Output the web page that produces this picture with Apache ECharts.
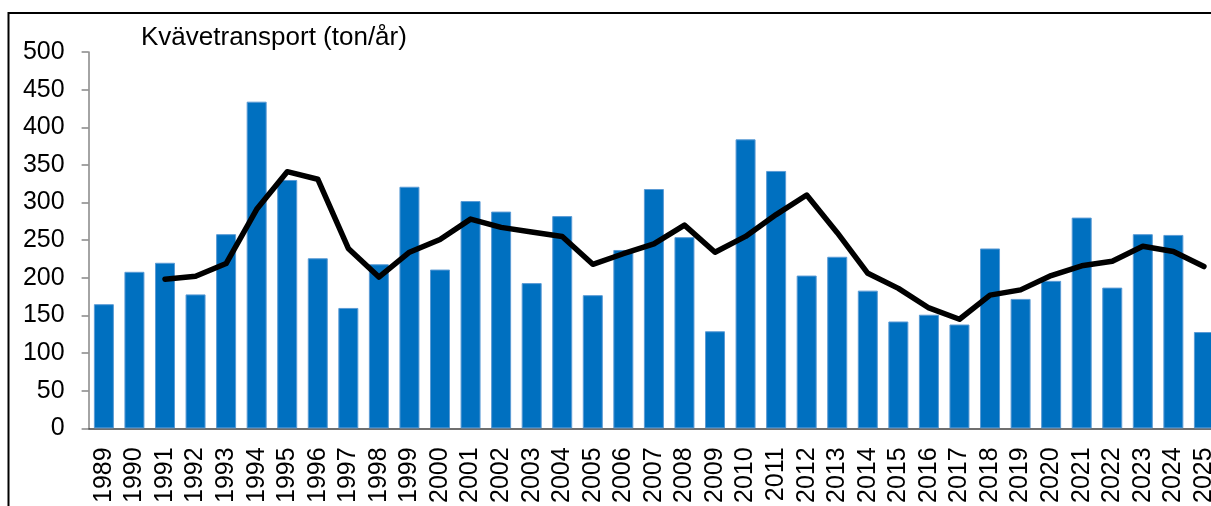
<!DOCTYPE html>
<html>
<head>
<meta charset="utf-8">
<script src="https://cdn.jsdelivr.net/npm/echarts@6/dist/echarts.min.js"></script>
<style>
	html, body { margin: 0; padding: 0; background: #fff; overflow: hidden; }
	#chart { width: 1220px; height: 506px; }
</style>
</head>
<body>
<div id="chart"></div>
<script>
var years = ['1989', '1990', '1991', '1992', '1993', '1994', '1995', '1996', '1997', '1998',
	'1999', '2000', '2001', '2002', '2003', '2004', '2005', '2006', '2007', '2008',
	'2009', '2010', '2011', '2012', '2013', '2014', '2015', '2016', '2017', '2018',
	'2019', '2020', '2021', '2022', '2023', '2024', '2025'];

// årlig transport (staplar)
var transport = [165, 208, 220, 178, 258, 434, 330, 226, 160, 218,
	321, 211, 302, 288, 193, 282, 177, 237, 318, 254,
	129, 384, 342, 203, 228, 183, 142, 151, 138, 239,
	172, 196, 280, 187, 258, 257, 128];

// glidande medel (linje), börjar 1991
var medel = ['-', '-', 198, 202, 219, 291, 341, 331, 239, 201,
	234, 251, 278, 267, 261, 255, 218, 232, 245, 270,
	234, 255, 284, 310, 260, 206, 186, 160, 145, 177,
	184, 203, 216, 222, 242, 235, 215];

var yTicks = { min: 0, max: 500, interval: 50 };

var font = 'Liberation Sans, Arial, sans-serif';

var chart = echarts.init(document.getElementById('chart'), null, { renderer: 'canvas' });
var option = {
	backgroundColor: '#fff',
	animation: false,
	title: {
		text: 'Kvävetransport (ton/år)',
		left: 136,
		top: 20,
		textStyle: { fontFamily: font, fontSize: 26, fontWeight: 'normal', color: '#000' }
	},
	grid: { left: 88.6, right: 0.8, top: 52, bottom: 75, containLabel: false },
	xAxis: {
		type: 'category',
		data: years,
		axisLine: { lineStyle: { color: '#404040', width: 1.5 } },
		axisTick: { show: false },
		axisLabel: {
			rotate: 90,
			interval: 0,
			margin: 19,
			fontFamily: font,
			fontSize: 25,
			color: '#000'
		}
	},
	yAxis: {
		type: 'value',
		min: yTicks.min,
		max: yTicks.max,
		interval: yTicks.interval,
		splitLine: { show: false },
		axisLine: { show: true, lineStyle: { color: '#868686', width: 1.5 } },
		axisTick: { show: true, length: 7, lineStyle: { color: '#868686', width: 1.5 } },
		axisLabel: { margin: 24, fontFamily: font, fontSize: 25, color: '#000' }
	},
	series: [{
		type: 'bar',
		data: transport,
		barWidth: 20,
		itemStyle: { color: '#0070C0', borderColor: '#5B9BD5', borderWidth: 1 }
	}, {
		type: 'line',
		data: medel,
		symbol: 'none',
		lineStyle: { color: '#000', width: 5.5, cap: 'round', join: 'round' }
	}],
	graphic: [{
		type: 'rect',
		shape: { x: 8.5, y: 13, width: 1400, height: 700 },
		style: { fill: 'none', stroke: '#000', lineWidth: 2 },
		silent: true
	}]
};
chart.setOption(option);
</script>
</body>
</html>
